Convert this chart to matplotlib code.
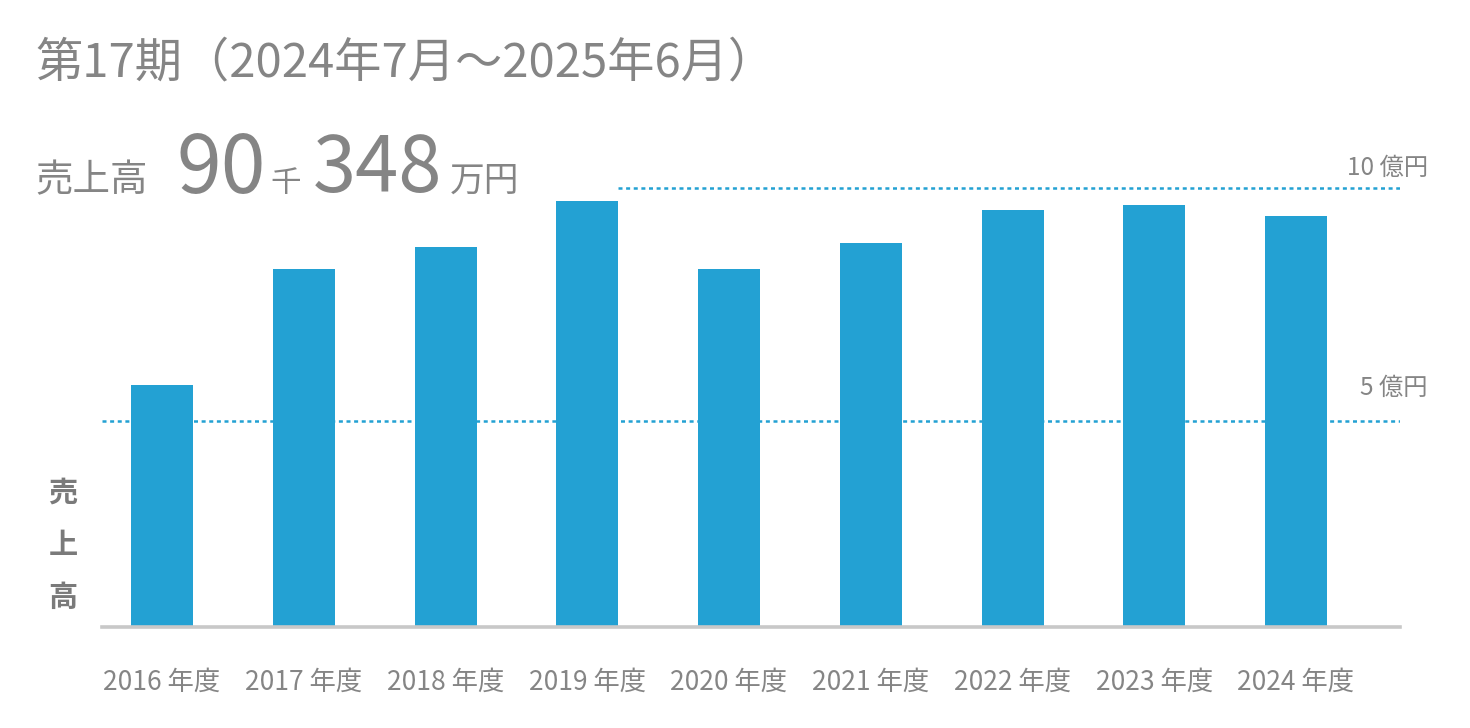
import matplotlib
matplotlib.use("Agg")
import matplotlib.pyplot as plt
from matplotlib.transforms import offset_copy

plt.rcParams['font.family'] = ['Noto Sans CJK JP', 'DejaVu Sans']

# ---- data ----
years = ["2016 年度", "2017 年度", "2018 年度", "2019 年度", "2020 年度",
         "2021 年度", "2022 年度", "2023 年度", "2024 年度"]
sales_oku = [5.32, 7.87, 8.35, 9.36, 7.87, 8.44, 9.16, 9.27, 9.03]  # 億円
ref_levels = [4.53, 9.65]
ref_labels = ["5 億円", "10 億円"]
ref_start_bar = [None, 3]   # 10億 line starts after the 2019 bar
title = "第17期（2024年7月～2025年6月）"

BLUE = "#23a1d3"
GRAY = "#858585"

W, H = 1470, 728
fig = plt.figure(figsize=(W / 100, H / 100), dpi=100)

def fx(px):
    return px / W

def fy(py):
    return 1 - py / H

ax_left, ax_right, ax_top, ax_base = 102, 1400, 140, 627
ax = fig.add_axes([fx(ax_left), fy(ax_base), (ax_right - ax_left) / W, (ax_base - ax_top) / H])

step = 141.75
bw = 62 / step
xs = list(range(len(years)))
ax.bar(xs, sales_oku, width=bw, color=BLUE, zorder=2)
xl = (-(162 - ax_left) / step, (ax_right - 162) / step)
ax.set_xlim(*xl)
ax.set_ylim(0, (ax_base - ax_top) / 45.5)

label_offsets_px = [33, 20]
for lvl, lab, sb, off in zip(ref_levels, ref_labels, ref_start_bar, label_offsets_px):
    x0 = xl[0] if sb is None else sb + bw / 2
    ax.plot([x0, xl[1]], [lvl, lvl], color=BLUE, lw=1.8,
            linestyle=(0, (1.6, 1.45)), dash_capstyle='butt', zorder=1)
    tr = offset_copy(ax.get_yaxis_transform(), fig=fig, x=0, y=off, units='dots')
    ax.text(1.0215, lvl, lab, transform=tr,
            ha='right', va='center', fontsize=17.5, color=GRAY, clip_on=False)

ax.axhline(0, color="#c8c8c8", lw=2.6, zorder=3, clip_on=False)
for s in ax.spines.values():
    s.set_visible(False)
ax.set_yticks([])
ax.set_xticks(xs)
ax.set_xticklabels(years, fontsize=19, color=GRAY)
ax.tick_params(axis='x', length=0, pad=30)

# header texts
fig.text(fx(35), fy(63), title, fontsize=34, color=GRAY, va='center', ha='left')
fig.text(fx(35), fy(181), "売上高", fontsize=27, color=GRAY, va='center', ha='left')
fig.text(fx(177), fy(170), "90", fontsize=58, color=GRAY, va='center', ha='left')
fig.text(fx(270), fy(184), "千", fontsize=22, color=GRAY, va='center', ha='left')
fig.text(fx(313), fy(170), "348", fontsize=56, color=GRAY, va='center', ha='left')
fig.text(fx(450), fy(181), "万円", fontsize=25, color=GRAY, va='center', ha='left')

# vertical axis label
for i, ch in enumerate("売上高"):
    fig.text(fx(63), fy(493 + 52 * i), ch, fontsize=21, color="#7a7a7a",
             fontweight='bold', ha='center', va='center')

fig.savefig("out.png", dpi=100, facecolor="white")
